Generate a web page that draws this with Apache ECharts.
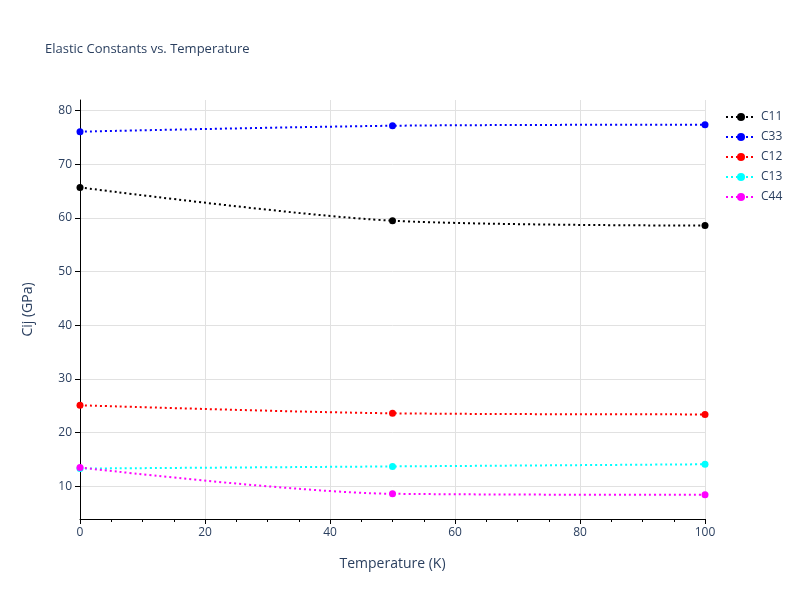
<!DOCTYPE html>
<html>
<head>
<meta charset="utf-8">
<script src="https://cdn.jsdelivr.net/npm/echarts@6/dist/echarts.min.js"></script>
<style>html,body{margin:0;padding:0;background:#fff}#chart{width:800px;height:600px}</style>
</head>
<body>
<div id="chart"></div>
<script>
var temperature = [0, 50, 100];
var c11 = [65.7, 59.5, 58.6];
var c33 = [76.1, 77.2, 77.4];
var c12 = [25.1, 23.6, 23.4];
var c13 = [13.3, 13.7, 14.1];
var c44 = [13.5, 8.6, 8.4];
var yTicks = [10, 20, 30, 40, 50, 60, 70, 80];

var chart = echarts.init(document.getElementById('chart'));

function pairs(ys) {
	return temperature.map(function (t, i) { return [t, ys[i]]; });
}

function line(name, color, ys) {
	return {
		name: name,
		type: 'line',
		data: pairs(ys),
		smooth: 0.3,
		symbol: 'circle',
		symbolSize: 7,
		itemStyle: { color: color },
		lineStyle: { color: color, width: 2, type: [2, 3] }
	};
}

var textColor = '#2a3f5f';

chart.setOption({
	backgroundColor: '#fff',
	animation: false,
	title: {
		text: 'Elastic Constants vs. Temperature',
		left: 40,
		top: 38,
		textStyle: { fontSize: 13, fontWeight: 'normal', color: textColor, fontFamily: 'Open Sans' }
	},
	legend: {
		orient: 'vertical',
		left: 720,
		top: 106,
		itemGap: 8,
		itemWidth: 30,
		itemHeight: 10,
		textStyle: { color: textColor, fontSize: 12, fontFamily: 'Open Sans' },
		data: ['C11', 'C33', 'C12', 'C13', 'C44']
	},
	grid: { left: 80, right: 95, top: 100, bottom: 81 },
	xAxis: {
		type: 'value',
		min: 0,
		max: 100,
		interval: 20,
		name: 'Temperature (K)',
		nameLocation: 'middle',
		nameGap: 38,
		nameTextStyle: { color: textColor, fontSize: 14, fontFamily: 'Open Sans' },
		axisLine: { show: true, lineStyle: { color: '#000' } },
		axisTick: { show: true, length: 5, lineStyle: { color: '#000' } },
		minorTick: { show: true, splitNumber: 4, length: 3, lineStyle: { color: '#000' } },
		axisLabel: { color: textColor, fontSize: 12, fontFamily: 'Open Sans' },
		splitLine: { show: true, lineStyle: { color: '#e1e1e1' } }
	},
	yAxis: {
		type: 'value',
		min: 3.9,
		max: 82,
		name: 'Cij (GPa)',
		nameLocation: 'middle',
		nameGap: 45,
		nameTextStyle: { color: textColor, fontSize: 14, fontFamily: 'Open Sans' },
		axisLine: { show: true, lineStyle: { color: '#000' } },
		axisTick: { show: true, length: 5, customValues: yTicks, lineStyle: { color: '#000' } },
		axisLabel: { color: textColor, fontSize: 12, fontFamily: 'Open Sans', customValues: yTicks },
		splitLine: { show: true, lineStyle: { color: '#e1e1e1' } }
	},
	series: [
		line('C11', '#000000', c11),
		line('C33', '#0000ff', c33),
		line('C12', '#ff0000', c12),
		line('C13', '#00ffff', c13),
		line('C44', '#ff00ff', c44)
	]
});
</script>
</body>
</html>
